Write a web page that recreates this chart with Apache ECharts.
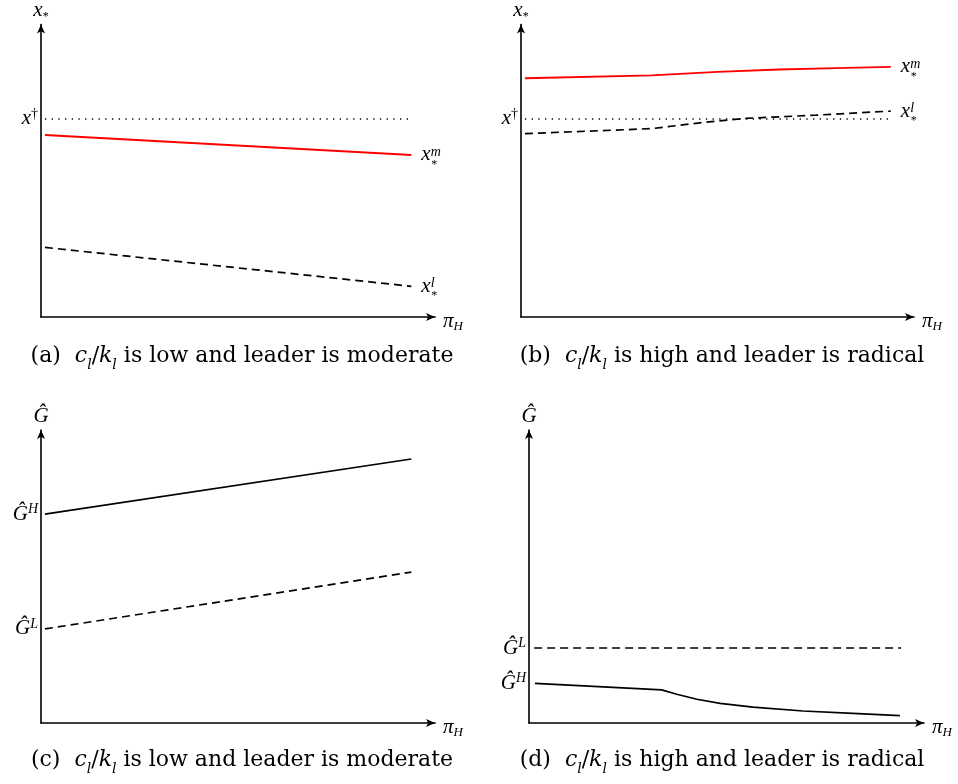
<!DOCTYPE html>
<html>
<head>
<meta charset="utf-8">
<script src="https://cdn.jsdelivr.net/npm/echarts@6/dist/echarts.min.js"></script>
<style>html,body{margin:0;padding:0;background:#fff}#c{width:958px;height:784px}</style>
</head>
<body>
<div id="c"></div>
<script>
// ---- Data (x on 0..100 scale of pi_H, y on 0..100 scale) ----
// Panel (a)
const xA = [1, 94];
const xmA = [62.2, 55.4];
const xlA = [23.8, 10.5];
const daggerA = 67.7;
// Panel (b)
const xmBx = [1, 33.3, 50, 65.6, 80, 94.1];
const xmB = [81.6, 82.6, 83.8, 84.6, 85.1, 85.5];
const xlBx = [1, 33.3, 45, 57, 75, 94.1];
const xlB = [62.7, 64.4, 66.3, 67.9, 69.0, 70.4];
const daggerB = 67.7;
const dagXB = [1, 94.1];
// Panel (c)
const xC = [1, 94];
const ghC = [71.3, 90.1];
const glC = [32.1, 51.5];
// Panel (d)
const ghDx = [1.5, 33.6, 37.4, 42.5, 48.4, 56.7, 69.4, 82.0, 93.9];
const ghD = [13.5, 11.3, 9.8, 8.1, 6.7, 5.4, 4.1, 3.3, 2.5];
const glDx = [1.3, 94.2];
const glD = [25.6, 25.6];
// Captions
const captions = [
  ['(a)', 'low', 'moderate'],
  ['(b)', 'high', 'radical'],
  ['(c)', 'low', 'moderate'],
  ['(d)', 'high', 'radical']
];

const MF = 'Liberation Serif';
const rich = {
  i: {fontFamily: MF, fontStyle: 'italic', fontSize: 21, lineHeight: 24, color: '#000'},
  i1: {fontFamily: MF, fontStyle: 'italic', fontSize: 21, lineHeight: 20, color: '#000'},
  sub: {fontFamily: MF, fontSize: 12, lineHeight: 12, verticalAlign: 'bottom', color: '#000'},
  subi: {fontFamily: MF, fontStyle: 'italic', fontSize: 13, lineHeight: 12, verticalAlign: 'bottom', color: '#000'},
  sup: {fontFamily: MF, fontStyle: 'italic', fontSize: 14, lineHeight: 12, verticalAlign: 'top', color: '#000'},
  supr: {fontFamily: MF, fontSize: 14, lineHeight: 12, verticalAlign: 'top', color: '#000'},
  gap: {width: 10, fontSize: 12, lineHeight: 0},
  sub2: {fontFamily: MF, fontSize: 12, lineHeight: 0, color: '#000'}
};
const stacked = (s) => '{i1|x}{sup|' + s + '}\n{gap| }{sub2|*}';

function zip(xs, ys) { return xs.map((x, k) => [x, ys[k]]); }

const grids = [
  {left: 41, top: 23, width: 394, height: 294},
  {left: 521, top: 23, width: 393, height: 294},
  {left: 41, top: 430, width: 394, height: 293},
  {left: 529, top: 430, width: 395, height: 293}
];
const yNames = ['{i|x}{sub|*}', '{i|x}{sub|*}', '{i|Ĝ}', '{i|Ĝ}'];
const yTickVals = [[daggerA], [daggerB], [ghC[0], glC[0]], [glD[0], ghD[0]]];
const yTickFmt = [
  () => '{i|x}{supr|†}',
  () => '{i|x}{supr|†}',
  (v) => v === ghC[0] ? '{i|Ĝ}{sup|H}' : '{i|Ĝ}{sup|L}',
  (v) => v === ghD[0] ? '{i|Ĝ}{sup|H}' : '{i|Ĝ}{sup|L}'
];

const axisLine = {show: true, onZero: false, symbol: ['none', 'arrow'], symbolSize: [6, 9], lineStyle: {color: '#000', width: 1.6}};

const xAxis = grids.map((g, k) => ({
  type: 'value', gridIndex: k, min: 0, max: 100,
  axisLine: axisLine, axisTick: {show: false}, axisLabel: {show: false}, splitLine: {show: false},
  name: '{i|π}{subi|H}', nameLocation: 'end', nameGap: 8,
  nameTextStyle: {rich: rich, verticalAlign: 'top', padding: [-8, 0, 0, 0]}
}));
const yAxis = grids.map((g, k) => ({
  type: 'value', gridIndex: k, min: 0, max: 100,
  axisLine: axisLine, axisTick: {show: false}, splitLine: {show: false},
  axisLabel: {show: true, customValues: yTickVals[k], formatter: yTickFmt[k], rich: rich, margin: 3},
  name: yNames[k], nameLocation: 'end', nameGap: 2,
  nameTextStyle: {rich: rich}
}));

const base = {type: 'line', showSymbol: false, symbol: 'none', silent: true, animation: false};
const blk = (k, data, type, extra) => Object.assign({}, base, {
  xAxisIndex: k, yAxisIndex: k, data: data,
  lineStyle: {color: '#000', width: 1.7, type: type}
}, extra || {});
const endLab = (txt) => ({endLabel: {show: true, formatter: () => txt, rich: rich, distance: 10}});
const dotStyle = {lineStyle: {color: '#000', width: 1.3, type: [1.3, 5.4]}};
const redStyle = {lineStyle: {color: '#ff0000', width: 1.9}};

const series = [
  // (a)
  blk(0, zip(xA, [daggerA, daggerA]), 'dotted', dotStyle),
  Object.assign(blk(0, zip(xA, xmA), 'solid', endLab(stacked('m'))), redStyle),
  blk(0, zip(xA, xlA), [8, 5], endLab(stacked('l'))),
  // (b)
  blk(1, zip(dagXB, [daggerB, daggerB]), 'dotted', dotStyle),
  Object.assign(blk(1, zip(xmBx, xmB), 'solid', endLab(stacked('m'))), redStyle),
  blk(1, zip(xlBx, xlB), [8, 5], endLab(stacked('l'))),
  // (c)
  blk(2, zip(xC, ghC), 'solid'),
  blk(2, zip(xC, glC), [8, 5]),
  // (d)
  blk(3, zip(glDx, glD), [8, 5]),
  blk(3, zip(ghDx, ghD), 'solid')
];

const capPos = [[242, 356], [722, 356], [242, 760], [722, 760]];
const CF = 'DejaVu Serif';
const capRich = {
  t: {fontFamily: CF, fontSize: 22, color: '#000'},
  m: {fontFamily: CF, fontStyle: 'italic', fontSize: 22, color: '#000'},
  s: {fontFamily: CF, fontStyle: 'italic', fontSize: 14, verticalAlign: 'bottom', lineHeight: 14, color: '#000', padding: [0, 0, -5, 0]}
};
const graphic = captions.map((c, k) => ({
  type: 'text', x: capPos[k][0], y: capPos[k][1], silent: true,
  style: {
    text: '{t|' + c[0] + '  }{m|c}{s|l}{t|/}{m|k}{s|l}{t| is ' + c[1] + ' and leader is ' + c[2] + '}',
    rich: capRich, align: 'center', verticalAlign: 'middle', fill: '#000'
  }
}));

const chart = echarts.init(document.getElementById('c'), null, {renderer: 'canvas'});
chart.setOption({
  animation: false,
  backgroundColor: '#fff',
  grid: grids,
  xAxis: xAxis,
  yAxis: yAxis,
  series: series,
  graphic: graphic
});
</script>
</body>
</html>
